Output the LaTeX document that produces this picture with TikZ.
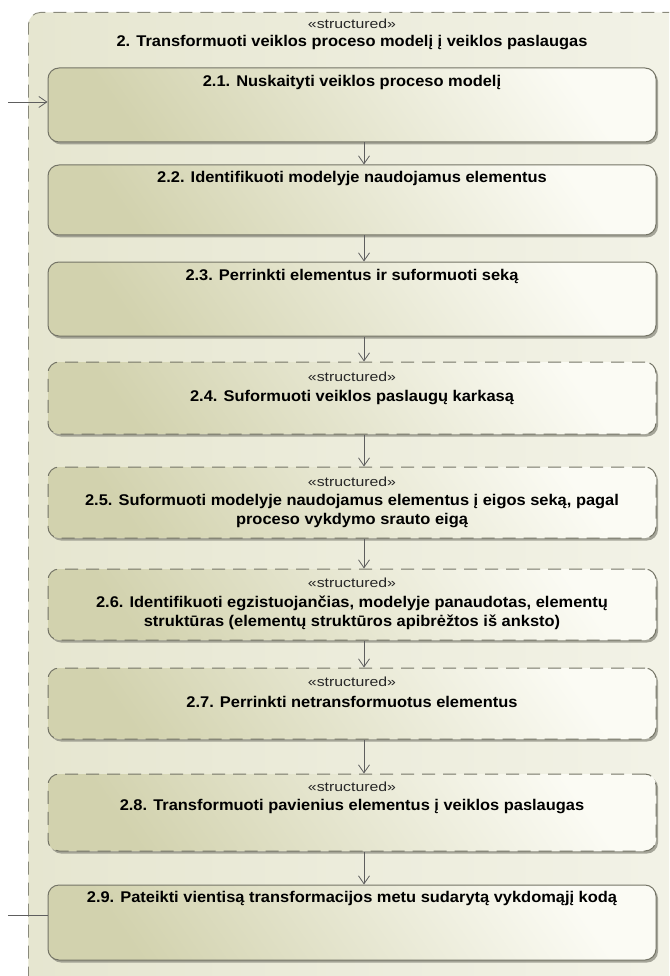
\documentclass[tikz,border=0pt]{standalone}
\usepackage{fontspec}
\setmainfont{Liberation Sans}
\newfontfamily\actfont[FakeStretch=1.06]{Liberation Sans}
\newfontfamily\stereofont[FakeStretch=1.2]{Liberation Sans}
\usetikzlibrary{arrows.meta,shadows}

\definecolor{framedark}{HTML}{E6E6D0}
\definecolor{framelight}{HTML}{F3F3E8}
\definecolor{frameline}{HTML}{8A8A7C}
\definecolor{boxdark}{HTML}{D2D2AE}
\definecolor{boxlight}{HTML}{FBFBF4}
\definecolor{boxline}{HTML}{747466}
\definecolor{shadowgray}{HTML}{8C8C80}
\definecolor{flowgray}{HTML}{5E5E5E}

\tikzset{
  framebox/.style={draw=frameline, line width=0.9pt, dash pattern=on 13pt off 8pt,
    rounded corners=12pt, left color=framedark, right color=framelight, inner sep=0pt},
  actbox/.style={draw=boxline, line width=1pt, rounded corners=11pt,
    minimum width=608pt, inner sep=0pt,
    top color=boxlight, bottom color=boxdark, shading angle=-55,
    drop shadow={shadow xshift=2pt, shadow yshift=-2.5pt, fill=shadowgray, opacity=0.75}},
  solidbox/.style={actbox},
  structbox/.style={actbox, dash pattern=on 13pt off 8pt},
  act/.style={font=\actfont\bfseries\fontsize{15.5}{19}\selectfont, text=black,
    inner sep=0pt, align=center},
  stereo/.style={font=\stereofont\fontsize{13.2}{16}\selectfont, text=black!85, inner sep=0pt},
  flow/.style={draw=flowgray, line width=0.8pt,
    -{Straight Barb[length=8pt, width=11pt, line width=0.8pt]}},
  flowline/.style={draw=flowgray, line width=0.8pt},
}

\begin{document}
\begin{tikzpicture}[x=1pt, y=-1pt]
\useasboundingbox (0,0) rectangle (669,976);
\clip (0,0) rectangle (669,976);

% enclosing structured activity (runs off the right and bottom edges)
\node[framebox, minimum width=680pt, minimum height=990pt, anchor=north west] (frame) at (28,12) {};
\node[stereo] (ft0) at (352,24) {«structured»};
\node[act] (ft1) at (352,43) {2. Transformuoti veiklos proceso modelį į veiklos paslaugas};

% actions
\node[solidbox, minimum height=74pt] (b1) at (352,105) {};
\node[solidbox, minimum height=70pt] (b2) at (352,200) {};
\node[solidbox, minimum height=74pt] (b3) at (352,299) {};
\node[structbox, minimum height=72pt] (b4) at (352,398) {};
\node[structbox, minimum height=71pt] (b5) at (352,502.5) {};
\node[structbox, minimum height=71pt] (b6) at (352,604.5) {};
\node[structbox, minimum height=71pt] (b7) at (352,703.5) {};
\node[structbox, minimum height=77pt] (b8) at (352,812.5) {};
\node[solidbox, minimum height=75pt] (b9) at (352,922.5) {};

% action labels
\node[act] (t1) at (352,82) {2.1. Nuskaityti veiklos proceso modelį};
\node[act] (t2) at (352,178) {2.2. Identifikuoti modelyje naudojamus elementus};
\node[act] (t3) at (352,276) {2.3. Perrinkti elementus ir suformuoti seką};
\node[stereo] (s4) at (352,377) {«structured»};
\node[act] (t4) at (352,398) {2.4. Suformuoti veiklos paslaugų karkasą};
\node[stereo] (s5) at (352,482) {«structured»};
\node[act] (t5) at (352,511) {2.5. Suformuoti modelyje naudojamus elementus į eigos seką, pagal\\proceso vykdymo srauto eigą};
\node[stereo] (s6) at (352,583) {«structured»};
\node[act] (t6) at (352,613) {2.6. Identifikuoti egzistuojančias, modelyje panaudotas, elementų\\struktūras (elementų struktūros apibrėžtos iš anksto)};
\node[stereo] (s7) at (352,682) {«structured»};
\node[act] (t7) at (352,702) {2.7. Perrinkti netransformuotus elementus};
\node[stereo] (s8) at (352,787) {«structured»};
\node[act] (t8) at (352,807) {2.8. Transformuoti pavienius elementus į veiklos paslaugas};
\node[act] (t9) at (352,898) {2.9. Pateikti vientisą transformacijos metu sudarytą vykdomąjį kodą};

% control flows
\coordinate (col) at (364,0);
\draw[flow] (b1.south -| col) -- (b2.north -| col);
\draw[flow] (b2.south -| col) -- (b3.north -| col);
\draw[flow] (b3.south -| col) -- (b4.north -| col);
\draw[flow] (b4.south -| col) -- (b5.north -| col);
\draw[flow] (b5.south -| col) -- (b6.north -| col);
\draw[flow] (b6.south -| col) -- (b7.north -| col);
\draw[flow] (b7.south -| col) -- (b8.north -| col);
\draw[flow] (b8.south -| col) -- (b9.north -| col);

% incoming and outgoing edges at the frame border
\coordinate (in1) at (8,102);
\draw[flow] (in1) -- (in1 -| b1.west);
\coordinate (out9) at (8,915);
\draw[flowline] (out9) -- (out9 -| b9.west);
\end{tikzpicture}
\end{document}
